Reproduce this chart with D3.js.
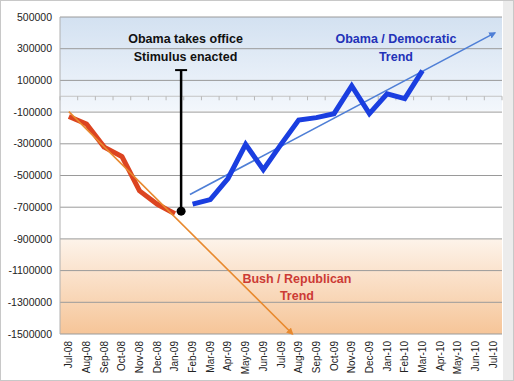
<!DOCTYPE html>
<html>
<head>
<meta charset="utf-8">
<script src="https://cdn.jsdelivr.net/npm/d3@7"></script>
<style>
  html, body { margin: 0; padding: 0; background: #fff; }
  svg { display: block; }
</style>
</head>
<body>
<div id="chart"></div>
<script>
// Monthly job change, Jul-08 .. Jul-10
const months = ['Jul-08', 'Aug-08', 'Sep-08', 'Oct-08', 'Nov-08', 'Dec-08', 'Jan-09',
  'Feb-09', 'Mar-09', 'Apr-09', 'May-09', 'Jun-09', 'Jul-09', 'Aug-09', 'Sep-09',
  'Oct-09', 'Nov-09', 'Dec-09', 'Jan-10', 'Feb-10', 'Mar-10', 'Apr-10', 'May-10',
  'Jun-10', 'Jul-10'];

const bushMonths = ['Jul-08', 'Aug-08', 'Sep-08', 'Oct-08', 'Nov-08', 'Dec-08', 'Jan-09'];
const bushValues = [-128000, -175000, -321000, -380000, -597000, -681000, -741000];

const obamaMonths = ['Feb-09', 'Mar-09', 'Apr-09', 'May-09', 'Jun-09', 'Jul-09', 'Aug-09',
  'Sep-09', 'Oct-09', 'Nov-09', 'Dec-09', 'Jan-10', 'Feb-10', 'Mar-10'];
const obamaValues = [-681000, -652000, -519000, -303000, -463000, -304000, -150000,
  -135000, -110000, 65000, -110000, 15000, -15000, 162000];

// trend arrows: [month index, value]
const bushTrend = [[0, -97000], [12.65, -1500000]];
const obamaTrend = [[6.85, -620000], [24.1, 400000]];

// "Obama takes office" marker
const officeMark = { idx: 6.35, from: -725000, to: 165000 };

const yTicks = [500000, 300000, 100000, -100000, -300000, -500000, -700000,
  -900000, -1100000, -1300000, -1500000];

const W = 514, H = 381;
const margin = { top: 17, right: 12, bottom: 47, left: 60 };
const innerW = W - margin.left - margin.right;
const innerH = H - margin.top - margin.bottom;

const svg = d3.select('#chart').append('svg')
  .attr('width', W)
  .attr('height', H)
  .style('font-family', 'Liberation Sans, Arial, sans-serif');

// outer frame
svg.append('rect')
  .attr('x', 0.5).attr('y', 0.5)
  .attr('width', W - 1).attr('height', H - 1)
  .attr('fill', '#fff')
  .attr('stroke', '#c8c8c8');
svg.append('rect')
  .attr('x', 503).attr('y', 1)
  .attr('width', 10).attr('height', H - 2)
  .attr('fill', '#ececec');

const x = d3.scaleLinear()
  .domain([-0.5, months.length - 0.5])
  .range([0, innerW]);

const y = d3.scaleLinear()
  .domain([-1500000, 500000])
  .range([innerH, 0]);

const idx = m => months.indexOf(m);

const defs = svg.append('defs');

const blueGrad = defs.append('linearGradient')
  .attr('id', 'blue-bg').attr('x1', 0).attr('y1', 0).attr('x2', 0).attr('y2', 1);
blueGrad.append('stop').attr('offset', '0%').attr('stop-color', '#d3e1f1');
blueGrad.append('stop').attr('offset', '100%').attr('stop-color', '#f3f7fc');

const orangeGrad = defs.append('linearGradient')
  .attr('id', 'orange-bg').attr('x1', 0).attr('y1', 0).attr('x2', 0).attr('y2', 1);
orangeGrad.append('stop').attr('offset', '0%').attr('stop-color', '#fdf3ea');
orangeGrad.append('stop').attr('offset', '100%').attr('stop-color', '#f6c598');

['blue', 'orange'].forEach(name => {
  const col = name === 'blue' ? '#4f7fd6' : '#e8892e';
  defs.append('marker')
    .attr('id', `arrow-${name}`)
    .attr('viewBox', '0 0 10 10')
    .attr('refX', 8).attr('refY', 5)
    .attr('markerWidth', 7).attr('markerHeight', 7)
    .attr('markerUnits', 'userSpaceOnUse')
    .attr('orient', 'auto')
    .append('path')
    .attr('d', 'M0,0 L10,5 L0,10 z')
    .attr('fill', col);
});

const g = svg.append('g')
  .attr('transform', `translate(${margin.left},${margin.top})`);

// background bands
g.append('rect')
  .attr('x', 0).attr('y', 0)
  .attr('width', innerW).attr('height', y(-92000))
  .attr('fill', 'url(#blue-bg)');
g.append('rect')
  .attr('x', 0).attr('y', y(-900000))
  .attr('width', innerW).attr('height', innerH - y(-900000))
  .attr('fill', 'url(#orange-bg)');

// gridlines
g.append('g')
  .selectAll('line')
  .data(yTicks)
  .enter()
  .append('line')
  .attr('x1', 0).attr('x2', innerW)
  .attr('y1', d => y(d)).attr('y2', d => y(d))
  .attr('stroke', '#9a9a9a')
  .attr('stroke-width', 1);

// left border
g.append('line')
  .attr('x1', 0).attr('x2', 0)
  .attr('y1', 0).attr('y2', innerH)
  .attr('stroke', '#b0b0b0');

// zero axis with tick marks
g.append('line')
  .attr('x1', 0).attr('x2', innerW)
  .attr('y1', y(0)).attr('y2', y(0))
  .attr('stroke', '#c4c4c4');
g.append('g')
  .selectAll('line')
  .data(d3.range(months.length + 1))
  .enter()
  .append('line')
  .attr('x1', d => x(d - 0.5)).attr('x2', d => x(d - 0.5))
  .attr('y1', y(0)).attr('y2', y(0) + 4)
  .attr('stroke', '#b8b8b8');

// y labels
g.append('g')
  .selectAll('text')
  .data(yTicks)
  .enter()
  .append('text')
  .attr('x', -8)
  .attr('y', d => y(d))
  .attr('dy', '0.35em')
  .attr('text-anchor', 'end')
  .attr('font-size', '10.5px')
  .attr('fill', '#222')
  .text(d => d);

// x labels (rotated)
g.append('g')
  .selectAll('text')
  .data(months)
  .enter()
  .append('text')
  .attr('transform', (d, i) => `translate(${x(i) + 3.5},${innerH + 7}) rotate(-90)`)
  .attr('text-anchor', 'end')
  .attr('font-size', '10px')
  .attr('fill', '#222')
  .text(d => d);

const line = d3.line()
  .x(d => x(d[0]))
  .y(d => y(d[1]));

// Bush data line
g.append('path')
  .datum(bushMonths.map((m, i) => [idx(m), bushValues[i]]))
  .attr('d', line)
  .attr('fill', 'none')
  .attr('stroke', '#dc4420')
  .attr('stroke-width', 5)
  .attr('stroke-linejoin', 'round');

// Bush trend
g.append('path')
  .datum(bushTrend)
  .attr('d', line)
  .attr('fill', 'none')
  .attr('stroke', '#e8892e')
  .attr('stroke-width', 1.6)
  .attr('marker-end', 'url(#arrow-orange)');

// Obama trend
g.append('path')
  .datum(obamaTrend)
  .attr('d', line)
  .attr('fill', 'none')
  .attr('stroke', '#4f7fd6')
  .attr('stroke-width', 1.6)
  .attr('marker-end', 'url(#arrow-blue)');

// Obama data line
g.append('path')
  .datum(obamaMonths.map((m, i) => [idx(m), obamaValues[i]]))
  .attr('d', line)
  .attr('fill', 'none')
  .attr('stroke', '#1a3ee0')
  .attr('stroke-width', 5)
  .attr('stroke-linejoin', 'miter');

// office marker
const mx = x(officeMark.idx);
g.append('line')
  .attr('x1', mx).attr('x2', mx)
  .attr('y1', y(officeMark.to)).attr('y2', y(officeMark.from))
  .attr('stroke', '#000')
  .attr('stroke-width', 2.5);
g.append('line')
  .attr('x1', mx - 6).attr('x2', mx + 6)
  .attr('y1', y(officeMark.to)).attr('y2', y(officeMark.to))
  .attr('stroke', '#000')
  .attr('stroke-width', 2);
g.append('circle')
  .attr('cx', mx).attr('cy', y(officeMark.from))
  .attr('r', 4.5)
  .attr('fill', '#000');

// annotations
function label(lines, cx, cy, color) {
  const t = g.append('text')
    .attr('text-anchor', 'middle')
    .attr('font-size', '12.5px')
    .attr('font-weight', 'bold')
    .attr('fill', color);
  lines.forEach((s, i) => {
    t.append('tspan')
      .attr('x', cx)
      .attr('y', cy + i * 17.5)
      .text(s);
  });
}

label(['Obama takes office', 'Stimulus enacted'], x(6.6), y(360000) + 4, '#111');
label(['Obama / Democratic', 'Trend'], x(18.5), y(360000) + 4, '#2332b8');
label(['Bush / Republican', 'Trend'], x(12.9), y(-1150000) + 4, '#cc3b35');
</script>
</body>
</html>
